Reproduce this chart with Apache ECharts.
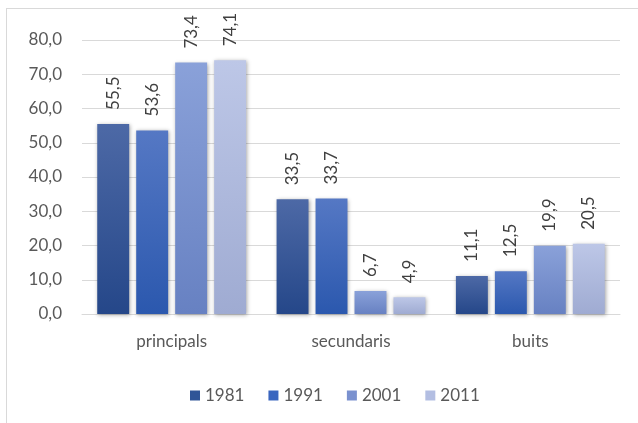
<!DOCTYPE html>
<html>
<head>
<meta charset="utf-8">
<script src="https://cdn.jsdelivr.net/npm/echarts@6/dist/echarts.min.js"></script>
<style>
  html, body { margin: 0; padding: 0; background: #fff; }
  #chart { position: absolute; left: 0; top: 0; width: 638px; height: 423px; }
  #frame { position: absolute; left: 6px; top: 8px; width: 700px; height: 500px;
           border-left: 1px solid #d9d9d9; border-top: 1px solid #d9d9d9; pointer-events: none; }
</style>
</head>
<body>
<div id="chart"></div>
<div id="frame"></div>
<script>
const categories = ['principals', 'secundaris', 'buits']
const years = ['1981', '1991', '2001', '2011']
const v1981 = [55.5, 33.5, 11.1]
const v1991 = [53.6, 33.7, 12.5]
const v2001 = [73.4, 6.7, 19.9]
const v2011 = [74.1, 4.9, 20.5]
const yTicks = [0, 10, 20, 30, 40, 50, 60, 70, 80]

const values = [v1981, v1991, v2001, v2011]
const colors = [
  ['#4d69a6', '#254789', '#2f5597'],
  ['#5578c4', '#2b58ae', '#3a66bf'],
  ['#8aa1d9', '#6781c2', '#7a91cf'],
  ['#bdc7e7', '#9fabd2', '#b3bee2']
]
const fmt = v => Number(v).toFixed(1).replace('.', ',')
const font = 'Lato, "Open Sans", sans-serif'

const chart = echarts.init(document.getElementById('chart'))
chart.setOption({
  animation: false,
  grid: { left: 82, right: 18, top: 40, bottom: 109 },
  legend: {
    data: years.map((y, i) => ({ name: y, itemStyle: { color: colors[i][2] } })),
    left: 185, top: 382,
    itemWidth: 10, itemHeight: 10, itemGap: 24,
    icon: 'rect',
    textStyle: { color: '#595959', fontSize: 17, fontFamily: font }
  },
  xAxis: {
    type: 'category',
    data: categories,
    axisLine: { lineStyle: { color: '#d9d9d9' } },
    axisTick: { show: false },
    axisLabel: { color: '#595959', fontSize: 17, fontFamily: font, margin: 19 }
  },
  yAxis: {
    type: 'value',
    min: yTicks[0], max: yTicks[yTicks.length - 1], interval: 10,
    axisLine: { show: false },
    axisTick: { show: false },
    splitLine: { lineStyle: { color: '#d9d9d9' } },
    axisLabel: { color: '#595959', fontSize: 17, fontFamily: font, margin: 20, formatter: fmt }
  },
  series: years.map((y, i) => ({
    name: y,
    type: 'bar',
    data: values[i],
    barGap: '22%',
    barCategoryGap: '17%',
    itemStyle: {
      color: new echarts.graphic.LinearGradient(0, 0, 0, 1, [
        { offset: 0, color: colors[i][0] },
        { offset: 1, color: colors[i][1] }
      ]),
      shadowColor: 'rgba(0,0,0,0.35)',
      shadowBlur: 4,
      shadowOffsetX: 1,
      shadowOffsetY: 1
    },
    label: {
      show: true,
      position: 'top',
      rotate: 90,
      align: 'left',
      verticalAlign: 'middle',
      distance: 14,
      color: '#404040',
      fontSize: 17,
      fontFamily: font,
      formatter: p => fmt(p.value)
    }
  }))
})
</script>
</body>
</html>
